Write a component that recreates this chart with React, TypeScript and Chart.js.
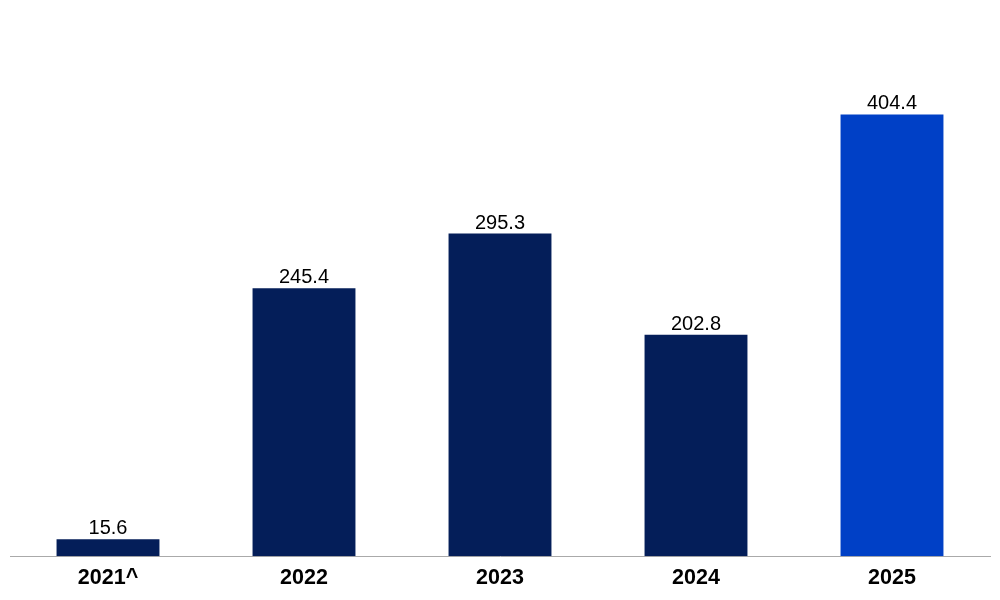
import React, { useEffect, useRef } from "react";
import { Chart, registerables } from "chart.js";

Chart.register(...registerables);

const categories = ["2021^", "2022", "2023", "2024", "2025"];
const values = [15.6, 245.4, 295.3, 202.8, 404.4];
const barColors = ["#041E59", "#041E59", "#041E59", "#041E59", "#0040C6"];

const valueLabels = {
  id: "valueLabels",
  afterDatasetsDraw(chart: any) {
    const ctx = chart.ctx;
    const meta = chart.getDatasetMeta(0);
    ctx.save();
    ctx.font = "20px 'Liberation Sans', Arial, sans-serif";
    ctx.fillStyle = "#000";
    ctx.textAlign = "center";
    ctx.textBaseline = "alphabetic";
    meta.data.forEach((bar: any, i: number) => {
      ctx.fillText(values[i].toFixed(1), bar.x, bar.y - 5);
    });
    ctx.restore();
  },
};

export default function App() {
  const ref = useRef<HTMLCanvasElement>(null);
  useEffect(() => {
    document.body.style.margin = "0";
    const chart = new Chart(ref.current!, {
      type: "bar",
      data: {
        labels: categories,
        datasets: [
          {
            data: values,
            backgroundColor: barColors,
            categoryPercentage: 1,
            barPercentage: 0.525,
          },
        ],
      },
      options: {
        animation: false,
        responsive: false,
        layout: { padding: { left: 10, right: 10, top: 10, bottom: 0 } },
        plugins: { legend: { display: false }, tooltip: { enabled: false } },
        scales: {
          y: { display: false, min: 0, max: 500 },
          x: {
            grid: { display: false, drawTicks: false },
            border: { display: true, color: "#AAAAAA", width: 1 },
            ticks: {
              color: "#000",
              padding: 9,
              font: { family: "'Liberation Sans', Arial, sans-serif", size: 21.5, weight: "bold" },
            },
          },
        },
      },
      plugins: [valueLabels],
    });
    return () => chart.destroy();
  }, []);
  return (
    <div style={{ position: "absolute", left: 0, top: 0, width: 1000, height: 600 }}>
      <canvas ref={ref} width={1000} height={600} />
    </div>
  );
}
